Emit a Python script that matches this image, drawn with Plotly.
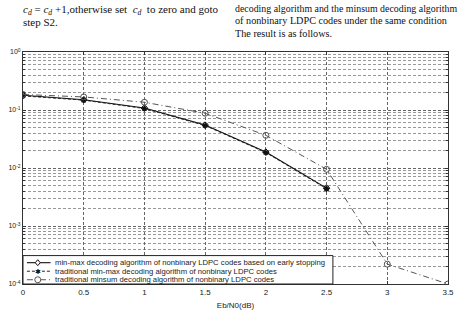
import plotly.graph_objects as go

snr = [0, 0.5, 1, 1.5, 2, 2.5, 3, 3.5]
ber_early = [0.18, 0.15, 0.108, 0.055, 0.0188, 0.0045]
ber_minmax = [0.175, 0.148, 0.106, 0.054, 0.0185, 0.0044]
ber_minsum = [0.185, 0.168, 0.136, 0.088, 0.0366, 0.0095, 0.00022, 0.0001]
names = [
    "min-max decoding algorithm of nonbinary LDPC codes based on early stopping",
    "traditional min-max decoding algorithm of nonbinary LDPC codes",
    "traditional minsum decoding algorithm of nonbinary LDPC codes",
]
xticks = [0, 0.5, 1, 1.5, 2, 2.5, 3, 3.5]
xticklabels = ["0", "0.5", "1", "1.5", "2", "2.5", "3", "3.5"]
yticks = [1e0, 1e-1, 1e-2, 1e-3, 1e-4]
yticklabels = ["10<sup>0</sup>", "10<sup>-1</sup>", "10<sup>-2</sup>", "10<sup>-3</sup>", "10<sup>-4</sup>"]

styles = [
    dict(line=dict(color="#111", width=1.1, dash="solid"),
         marker=dict(symbol="diamond-open", size=5, color="#111", line=dict(width=1))),
    dict(line=dict(color="#222", width=1, dash="3px,2px"),
         marker=dict(symbol="asterisk-open", size=5, color="#111", line=dict(width=1.3))),
    dict(line=dict(color="#555", width=1, dash="6px,3px,1px,3px"),
         marker=dict(symbol="circle-open", size=6, color="#555", line=dict(width=1))),
]

fig = go.Figure()
series = [ber_early, ber_minmax, ber_minsum]
for name, ys, st in zip(names, series, styles):
    fig.add_trace(go.Scatter(x=snr[:len(ys)], y=ys, name=name, mode="lines+markers",
                             showlegend=False, **st))

minor_vals = [k * 10 ** e for e in range(-4, 0) for k in range(2, 10)]

L, R, T, B, W, H = 22, 8, 52, 19, 462, 316
PW, PH = W - L - R, H - T - B


def px(x):
    return (x - L) / PW


def py(y):
    return (H - B - y) / PH


fig.update_layout(
    width=W, height=H,
    margin=dict(l=L, r=R, t=T, b=B),
    paper_bgcolor="white", plot_bgcolor="white",
    font=dict(family="Liberation Sans, Arial, sans-serif", size=8, color="#222"),
    showlegend=False,
    xaxis=dict(range=[0, 3.5], tickvals=xticks, ticktext=xticklabels,
               showline=True, linecolor="#333", linewidth=1, mirror="allticks",
               ticks="inside", ticklen=3, tickcolor="#333",
               showgrid=True, gridcolor="#666", griddash="3px,2px", gridwidth=0.7,
               zeroline=False, tickfont=dict(size=8),
               title=dict(text="Eb/N0(dB)", font=dict(size=8), standoff=6)),
    yaxis=dict(type="log", range=[-4, 0], tickvals=yticks, ticktext=yticklabels,
               showline=True, linecolor="#333", linewidth=1, mirror="allticks",
               ticks="inside", ticklen=3, tickcolor="#333",
               showgrid=True, gridcolor="#666", griddash="3px,2px", gridwidth=0.7,
               zeroline=False, tickfont=dict(size=7),
               minor=dict(tickvals=minor_vals, showgrid=True, gridcolor="#999",
                          griddash="3px,2px", gridwidth=0.6, ticks="inside", ticklen=2)),
)

# manual compact legend
fig.add_shape(type="rect", xref="paper", yref="paper", x0=px(22), x1=px(337), y0=py(297), y1=py(267),
              fillcolor="white", line=dict(color="#222", width=1), layer="above")
rows = [274.5, 283.5, 292.5]
for name, st, yy in zip(names, styles, rows):
    fig.add_shape(type="line", xref="paper", yref="paper", x0=px(26), x1=px(50), y0=py(yy), y1=py(yy),
                  line=dict(color=st["line"]["color"], width=st["line"]["width"], dash=st["line"]["dash"]),
                  layer="above")
    fig.add_annotation(text=name, xref="paper", yref="paper", x=px(52), y=py(yy), xanchor="left",
                       yanchor="middle", showarrow=False, font=dict(size=7.7, color="#222"))
# legend glyphs
cx = px(37)
fig.add_shape(type="path", xref="paper", yref="paper", xsizemode="pixel", ysizemode="pixel",
              xanchor=cx, yanchor=py(rows[0]), path="M 0,3 L 2.5,0 L 0,-3 L -2.5,0 Z",
              fillcolor="white", line=dict(color="#111", width=1), layer="above")
fig.add_annotation(text="✱", xref="paper", yref="paper", x=cx, y=py(rows[1]), xanchor="center",
                   yanchor="middle", showarrow=False, font=dict(size=7, color="#111"))
fig.add_shape(type="circle", xref="paper", yref="paper", xsizemode="pixel", ysizemode="pixel",
              xanchor=cx, yanchor=py(rows[2]), x0=-3, x1=3, y0=-3, y1=3,
              fillcolor="white", line=dict(color="#555", width=1), layer="above")

serif = "Liberation Serif, Times New Roman, serif"
texts = [
    (20, 8, "<i>c<sub>d</sub></i> = <i>c<sub>d</sub></i> +1,otherwise set  <i>c<sub>d</sub></i>  to zero and goto", 11),
    (20, 20, "step S2.", 11),
    (235, 6, "decoding algorithm and the minsum decoding algorithm", 9.9),
    (235, 19, "of nonbinary LDPC codes under the same condition", 10.2),
    (235, 32, "The result is as follows.", 10.2),
]
for x, y, t, s in texts:
    fig.add_annotation(text=t, xref="paper", yref="paper", x=px(x), y=py(y),
                       xanchor="left", yanchor="middle", showarrow=False,
                       font=dict(family=serif, size=s, color="#111"))

fig.write_html("out.html")
